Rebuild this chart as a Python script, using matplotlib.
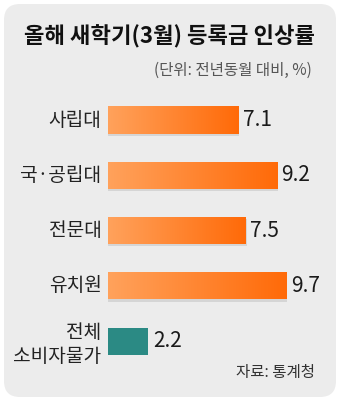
import numpy as np
import matplotlib
matplotlib.use('Agg')
from matplotlib import pyplot as plt
from matplotlib.patches import FancyBboxPatch
from matplotlib.colors import LinearSegmentedColormap

plt.rcParams['font.family'] = ['Noto Sans CJK KR', 'DejaVu Sans']

# data
categories = ['사립대', '국·공립대', '전문대', '유치원', '전체\n소비자물가']
values = [7.1, 9.2, 7.5, 9.7, 2.2]
value_labels = ['7.1', '9.2', '7.5', '9.7', '2.2']
title = '올해 새학기(3월) 등록금 인상률'
unit = '(단위: 전년동월 대비, %)'
source = '자료: 통계청'

W, H = 340, 401
fig = plt.figure(figsize=(W / 100, H / 100), dpi=100)
fig.patch.set_facecolor('white')

# background panel in pixel coords
bg = fig.add_axes([0, 0, 1, 1])
bg.set_xlim(0, W)
bg.set_ylim(H, 0)
bg.axis('off')
bg.add_patch(FancyBboxPatch((4, 4), W - 8, H - 8, boxstyle='round,pad=0,rounding_size=16',
                            facecolor='#ececec', edgecolor='none'))
bg.text(170, 37, title, ha='center', va='center', fontsize=16, fontweight='bold', color='#111111')
bg.text(312, 70, unit, ha='right', va='center', fontsize=11.2, color='#555555')
bg.text(315, 372, source, ha='right', va='center', fontsize=11.2, color='#333333')

# bar axes: x=0 at pixel 108, 18.37 px per unit
left_px, unit_px = 108, 18.37
top_px, step_px = 120 - 55.3 / 2, 55.3
ax = fig.add_axes([left_px / W, 1 - (top_px + 5 * step_px) / H, 10 * unit_px / W, 5 * step_px / H])
ax.set_xlim(0, 10)
ax.set_ylim(4.5, -0.5)
ax.axis('off')

y = np.arange(len(categories))
bh = 0.49
orange = LinearSegmentedColormap.from_list('org', ['#ffa25c', '#ff6a08'])
grad = np.linspace(0, 1, 256).reshape(1, -1)

for i, (cat, v, lab) in enumerate(zip(categories, values, value_labels)):
    if i < 4:
        # soft shadow under the bar
        ax.barh(y[i] + 0.04, v + 0.04, height=bh, color='#a0a0a0', alpha=0.3, zorder=1)
        bar = ax.barh(y[i], v, height=bh, color='#ff8030', zorder=2)[0]
        im = ax.imshow(grad, cmap=orange, aspect='auto', zorder=3,
                       extent=(0, v, y[i] + bh / 2, y[i] - bh / 2))
        im.set_clip_path(bar)
    else:
        ax.barh(y[i], v, height=bh, color='#2b8a84', zorder=2)
    ax.text(v + 0.25, y[i], lab, ha='left', va='center', fontsize=15, color='#1a1a1a')
    ax.text(-0.35, y[i] + (0.06 if i == 4 else 0), cat, ha='right', va='center',
            fontsize=13.8, color='#222222', linespacing=1.15)

ax.set_xlim(0, 10)
ax.set_ylim(4.5, -0.5)

fig.savefig('out.png', dpi=100, facecolor='white')
